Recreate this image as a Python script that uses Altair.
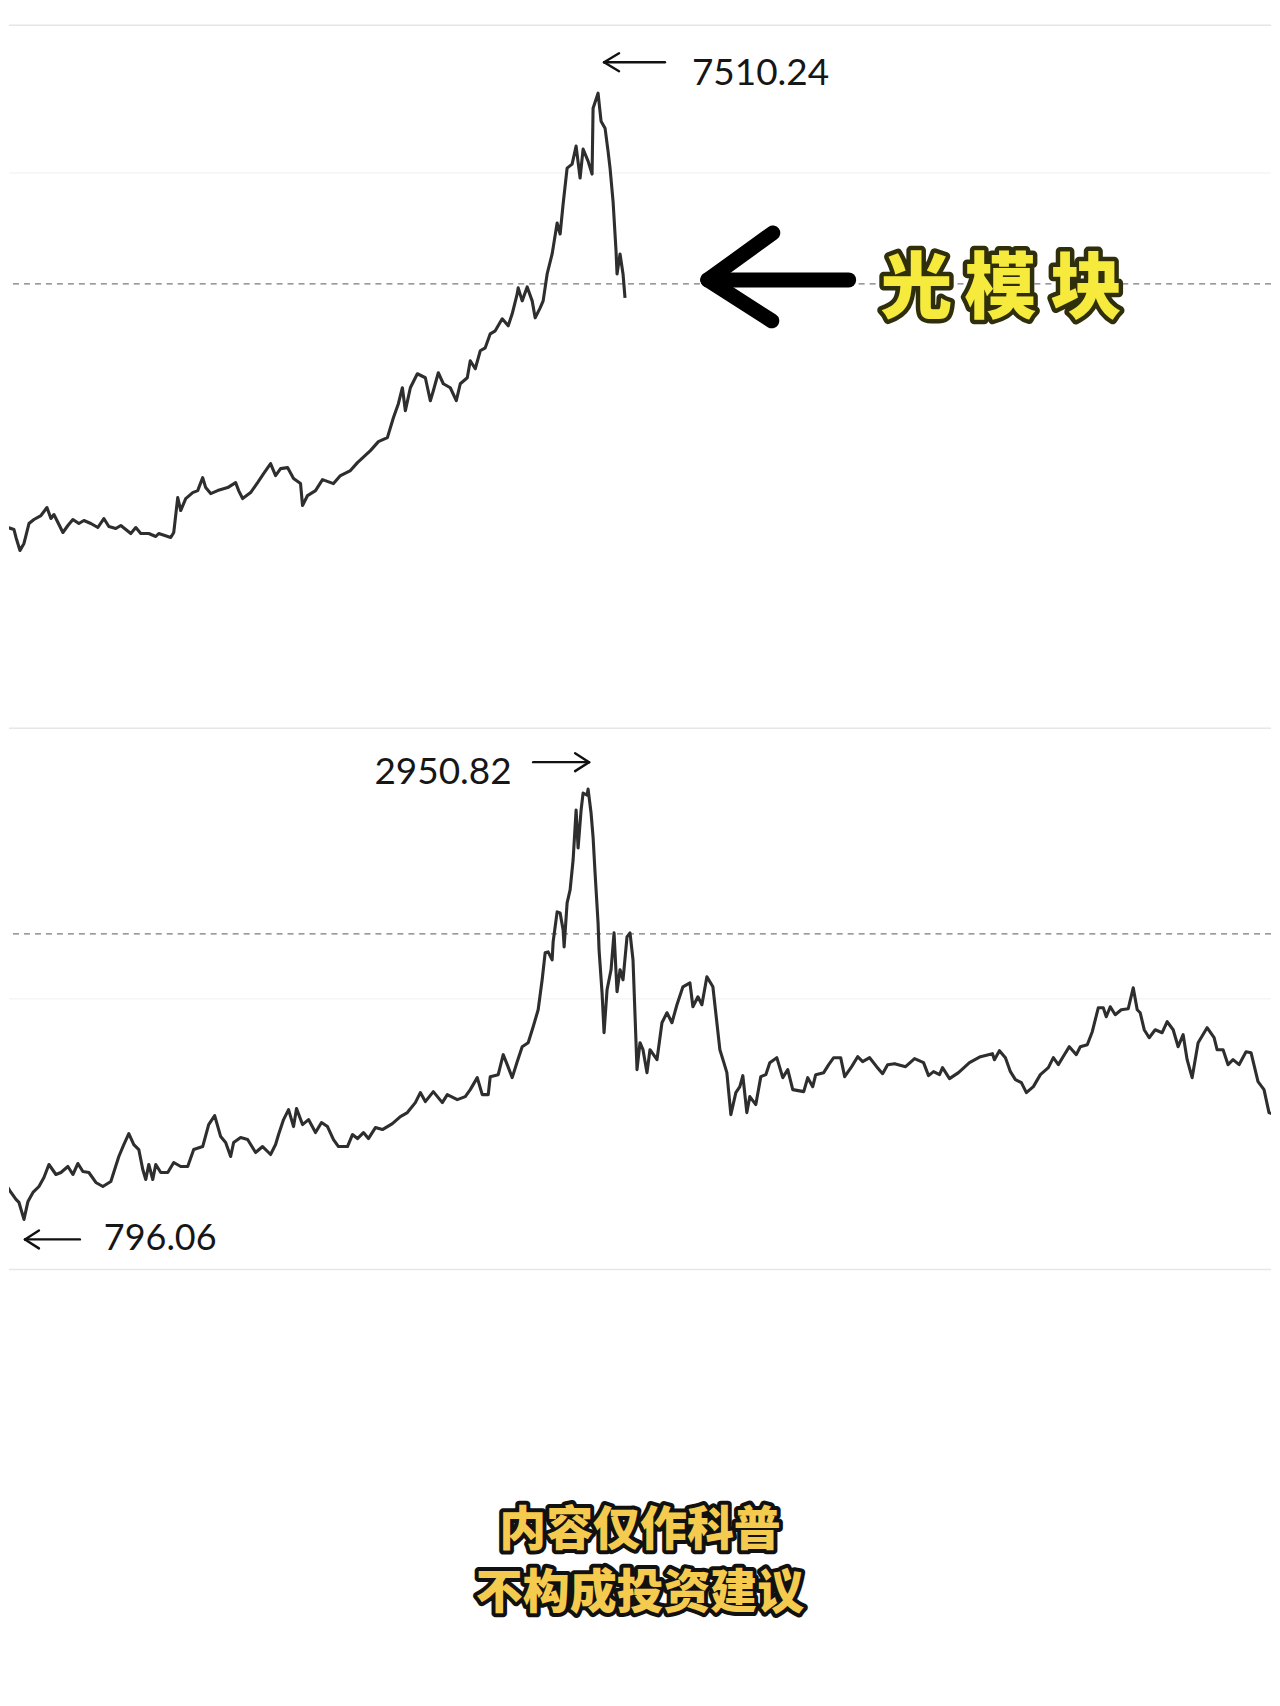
import altair as alt
import pandas as pd

# ---------------- data ----------------
# Top panel: 光模块 index (trading-day index, value)
top_day = [0, 7, 13, 15, 19, 23, 28, 33, 40, 46, 50, 53, 62, 67, 72, 78, 83, 90, 97, 103,
           108, 115, 120, 130, 135, 140, 148, 155, 158, 170, 173, 177, 180, 185, 192, 197, 202, 205, 210, 217,
           227, 235, 238, 242, 250, 257, 263, 270, 275, 280, 287, 293, 300, 302, 307, 315, 322, 333, 340, 350,
           357, 370, 378, 387, 393, 398, 402, 405, 410, 417, 425, 430, 433, 438, 443, 450, 456, 460, 467, 470,
           475, 480, 485, 490, 495, 502, 508, 512, 517, 518, 522, 527, 532, 535, 540, 543, 547, 552, 557, 560,
           563, 567, 572, 576, 580, 583, 588, 592, 593, 598, 601, 605, 608, 610, 613, 616, 617, 620, 623, 625]
top_value = [3180, 3160, 3140, 3060, 2930, 3000, 3200, 3240, 3280, 3360, 3250, 3290, 3110, 3180, 3240, 3200, 3230, 3200, 3160, 3250,
             3170, 3150, 3180, 3100, 3160, 3100, 3100, 3070, 3100, 3060, 3110, 3460, 3330, 3450, 3510, 3530, 3660, 3560, 3500, 3530,
             3560, 3610, 3530, 3450, 3510, 3610, 3700, 3800, 3680, 3750, 3760, 3650, 3600, 3380, 3480, 3530, 3640, 3600, 3680, 3730,
             3810, 3930, 4020, 4060, 4260, 4400, 4560, 4330, 4560, 4700, 4660, 4430, 4530, 4710, 4600, 4560, 4430, 4600, 4660, 4830,
             4750, 4930, 4960, 5100, 5130, 5250, 5180, 5300, 5500, 5560, 5430, 5570, 5430, 5260, 5360, 5430, 5700, 5900, 6210, 6100,
             6400, 6760, 6800, 6980, 6660, 6950, 6830, 6700, 7360, 7510.24, 7230, 7160, 6930, 6760, 6430, 5930, 5700, 5900, 5700, 5460]

# Bottom panel: comparison index
bot_day = [0, 5, 10, 15, 18, 23, 27, 32, 38, 43, 48, 55, 60, 67, 72, 77, 82, 88, 95, 102,
           110, 118, 123, 128, 133, 138, 142, 145, 148, 152, 155, 160, 167, 173, 180, 187, 193, 202, 208, 214,
           220, 225, 230, 233, 240, 247, 255, 262, 267, 270, 275, 278, 283, 288, 293, 296, 302, 308, 315, 321,
           327, 333, 338, 347, 352, 357, 363, 368, 375, 382, 392, 400, 407, 415, 420, 425, 433, 442, 447, 457,
           465, 470, 477, 482, 488, 490, 498, 503, 507, 512, 517, 522, 528, 533, 538, 542, 545, 548, 552, 553,
           557, 560, 563, 564, 567, 570, 573, 576, 578, 581, 583, 587, 588, 591, 593, 595, 598, 599, 602, 604,
           607, 611, 614, 617, 620, 623, 627, 630, 633, 637, 640, 643, 647, 650, 657, 662, 667, 672, 677, 683,
           690, 693, 698, 702, 707, 713, 717, 720, 724, 727, 731, 736, 740, 743, 747, 750, 756, 761, 766, 770,
           777, 783, 788, 793, 804, 808, 813, 816, 824, 829, 834, 841, 845, 852, 858, 863, 870, 877, 883, 888,
           895, 906, 915, 924, 929, 934, 940, 943, 950, 959, 970, 981, 993, 995, 1000, 1006, 1011, 1016, 1022, 1027,
           1034, 1041, 1049, 1054, 1059, 1065, 1070, 1077, 1081, 1088, 1093, 1099, 1104, 1107, 1111, 1116, 1122, 1129, 1134, 1138,
           1141, 1145, 1150, 1156, 1163, 1168, 1174, 1179, 1184, 1188, 1193, 1199, 1208, 1215, 1218, 1224, 1229, 1234, 1240, 1247,
           1252, 1259, 1265, 1270, 1275, 1280]
bot_value = [961, 971, 931, 896, 881, 796.06, 886, 931, 961, 1006, 1071, 1021, 1031, 1061, 1021, 1076, 1036, 1031, 981, 961,
             986, 1111, 1171, 1226, 1171, 1146, 1046, 996, 1071, 996, 1071, 1031, 1031, 1081, 1061, 1061, 1146, 1161, 1271, 1316,
             1211, 1181, 1111, 1181, 1206, 1196, 1131, 1161, 1136, 1121, 1171, 1221, 1296, 1346, 1261, 1351, 1271, 1296, 1231, 1281,
             1261, 1196, 1161, 1161, 1221, 1201, 1231, 1201, 1256, 1246, 1276, 1311, 1331, 1381, 1431, 1386, 1436, 1381, 1421, 1396,
             1411, 1446, 1506, 1421, 1421, 1511, 1521, 1621, 1571, 1506, 1586, 1661, 1681, 1761, 1846, 1996, 2131, 2136, 2096, 2186,
             2336, 2331, 2246, 2161, 2381, 2446, 2596, 2846, 2656, 2846, 2931, 2921, 2950.82, 2831, 2711, 2531, 2281, 2146, 1931, 1731,
             1946, 2046, 2231, 1936, 2046, 1996, 2211, 2231, 2096, 1546, 1681, 1646, 1531, 1646, 1596, 1781, 1831, 1781, 1871, 1961,
             1981, 1861, 1911, 1871, 2011, 1961, 1781, 1646, 1581, 1531, 1321, 1431, 1461, 1516, 1331, 1411, 1371, 1511, 1521, 1581,
             1606, 1506, 1546, 1446, 1436, 1506, 1461, 1521, 1531, 1571, 1606, 1606, 1511, 1561, 1611, 1586, 1606, 1561, 1526, 1571,
             1576, 1561, 1601, 1581, 1516, 1536, 1521, 1556, 1501, 1531, 1581, 1611, 1626, 1596, 1641, 1606, 1536, 1496, 1481, 1431,
             1461, 1521, 1556, 1606, 1571, 1621, 1661, 1621, 1661, 1671, 1736, 1856, 1856, 1811, 1861, 1821, 1846, 1851, 1956, 1846,
             1831, 1746, 1706, 1746, 1731, 1786, 1746, 1661, 1721, 1596, 1506, 1681, 1756, 1706, 1646, 1646, 1571, 1596, 1571, 1636,
             1631, 1486, 1446, 1331, 1321, 1281]

assert len(top_day) == len(top_value), (len(top_day), len(top_value))
assert len(bot_day) == len(bot_value), (len(bot_day), len(bot_value))

# reference levels
top_dash_level = [5600]
top_border_levels = [8190, 1150]
top_faint_levels = [6710]
bot_dash_level = [2226]
bot_border_levels = [545]
bot_faint_levels = [1901]

# annotations
top_peak_label = ["7510.24"]
bot_peak_label = ["2950.82"]
bot_low_label = ["796.06"]
big_label_chars = ["光", "模", "块"]
footer_lines = ["内容仅作科普", "不构成投资建议"]

# ---------------- scales ----------------
x_scale = alt.Scale(domain=[8, 1272], nice=False, zero=False)
top_y = alt.Scale(domain=[1140, 8350], nice=False, zero=False)
bot_y = alt.Scale(domain=[541, 3251], nice=False, zero=False)

W = 1264
LINE_COLOR = "#2e2e2e"
NUM_FONT = "Lato"
CJK_FONT = "Noto Sans CJK SC"


def hrules(levels, yscale, **style):
    df = pd.DataFrame({"level": levels})
    return alt.Chart(df).mark_rule(**style).encode(
        y=alt.Y("level:Q", scale=yscale, axis=None))


def segments(rows, yscale, **style):
    df = pd.DataFrame(rows, columns=["x", "y", "x2", "y2"])
    return alt.Chart(df).mark_rule(**style).encode(
        x=alt.X("x:Q", scale=x_scale, axis=None),
        x2="x2:Q",
        y=alt.Y("y:Q", scale=yscale, axis=None),
        y2="y2:Q",
    )


def label(day, value, text, yscale, **style):
    df = pd.DataFrame({"day": day, "value": value, "text": text})
    return alt.Chart(df).mark_text(**style).encode(
        x=alt.X("day:Q", scale=x_scale, axis=None),
        y=alt.Y("value:Q", scale=yscale, axis=None),
        text="text:N",
    )


# ---------------- top panel ----------------
top_df = pd.DataFrame({"day": top_day, "value": top_value})
top_line = alt.Chart(top_df).mark_line(
    color=LINE_COLOR, strokeWidth=3.1, strokeJoin="round", clip=True
).encode(
    x=alt.X("day:Q", scale=x_scale, axis=None),
    y=alt.Y("value:Q", scale=top_y, axis=None),
)

thin_arrow = dict(color="#111111", strokeWidth=2.4, strokeCap="round")
top_arrow = segments([[604, 7820, 665, 7820], [604, 7820, 619, 7910], [604, 7820, 619, 7730]],
                     top_y, **thin_arrow)
top_text = label([692], [7700], top_peak_label, top_y, align="left", baseline="middle",
                 font=NUM_FONT, fontSize=37, color="#161616")

big_arrow = segments([[708, 5640, 849, 5640], [708, 5640, 773, 6110], [708, 5640, 772, 5230]],
                     top_y, color="#000000", strokeWidth=15, strokeCap="round")

big_df_days = [917, 1001, 1087]
big_df_vals = [5540, 5540, 5540]
big_outline = label(big_df_days, big_df_vals, big_label_chars, top_y, align="center",
                    baseline="middle", font=CJK_FONT, fontSize=72, fontWeight=900,
                    color="#2f2f0c", stroke="#2f2f0c", strokeWidth=9, strokeJoin="round")
big_fill = label(big_df_days, big_df_vals, big_label_chars, top_y, align="center",
                 baseline="middle", font=CJK_FONT, fontSize=72, fontWeight=900,
                 color="#f6ea3c")

top_panel = alt.layer(
    hrules(top_faint_levels, top_y, color="#f5f5f5", strokeWidth=1.5),
    hrules(top_border_levels, top_y, color="#e6e6e6", strokeWidth=1.5),
    hrules(top_dash_level, top_y, color="#7a7a7a", strokeWidth=1.2, strokeDash=[6, 5]),
    top_line,
    top_arrow,
    top_text,
    big_arrow,
    big_outline,
    big_fill,
).properties(width=W, height=721)

# ---------------- bottom panel ----------------
bot_df = pd.DataFrame({"day": bot_day, "value": bot_value})
bot_line = alt.Chart(bot_df).mark_line(
    color=LINE_COLOR, strokeWidth=3.1, strokeJoin="round", clip=True
).encode(
    x=alt.X("day:Q", scale=x_scale, axis=None),
    y=alt.Y("value:Q", scale=bot_y, axis=None),
)

bot_peak_arrow = segments([[533, 3086, 589, 3086], [589, 3086, 575, 3131], [589, 3086, 575, 3041]],
                          bot_y, **thin_arrow)
bot_peak_text = label([374], [3031], bot_peak_label, bot_y, align="left", baseline="middle",
                      font=NUM_FONT, fontSize=37, color="#161616")
bot_low_arrow = segments([[24, 696, 79, 696], [24, 696, 38, 741], [24, 696, 38, 651]],
                         bot_y, **thin_arrow)
bot_low_text = label([103], [696], bot_low_label, bot_y, align="left", baseline="middle",
                     font=NUM_FONT, fontSize=36, color="#161616")

bot_panel = alt.layer(
    hrules(bot_faint_levels, bot_y, color="#f5f5f5", strokeWidth=1.5),
    hrules(bot_border_levels, bot_y, color="#e6e6e6", strokeWidth=1.5),
    hrules(bot_dash_level, bot_y, color="#7a7a7a", strokeWidth=1.2, strokeDash=[6, 5]),
    bot_line,
    bot_peak_arrow,
    bot_peak_text,
    bot_low_arrow,
    bot_low_text,
).properties(width=W, height=542)

# ---------------- footer ----------------
footer_df = pd.DataFrame({"row": [0, 1], "text": footer_lines})
row_scale = alt.Scale(type="point", domain=[0, 1], range=[261, 324], padding=0)
footer_outline = alt.Chart(footer_df).mark_text(
    align="center", baseline="middle", font=CJK_FONT, fontSize=47, fontWeight=900,
    color="#111111", stroke="#111111", strokeWidth=8, strokeJoin="round"
).encode(
    x=alt.value(W / 2),
    y=alt.Y("row:O", scale=row_scale, axis=None),
    text="text:N",
)
footer_fill = alt.Chart(footer_df).mark_text(
    align="center", baseline="middle", font=CJK_FONT, fontSize=47, fontWeight=900,
    color="#f4cb4e"
).encode(
    x=alt.value(W / 2),
    y=alt.Y("row:O", scale=row_scale, axis=None),
    text="text:N",
)
footer = alt.layer(footer_outline, footer_fill).properties(width=W, height=427)

chart = alt.vconcat(
    top_panel, bot_panel, footer, spacing=0, padding=0, bounds="flush",
    background="#ffffff",
).configure_view(stroke=None)

chart.save("out.html", embed_options={"renderer": "svg", "actions": False})
